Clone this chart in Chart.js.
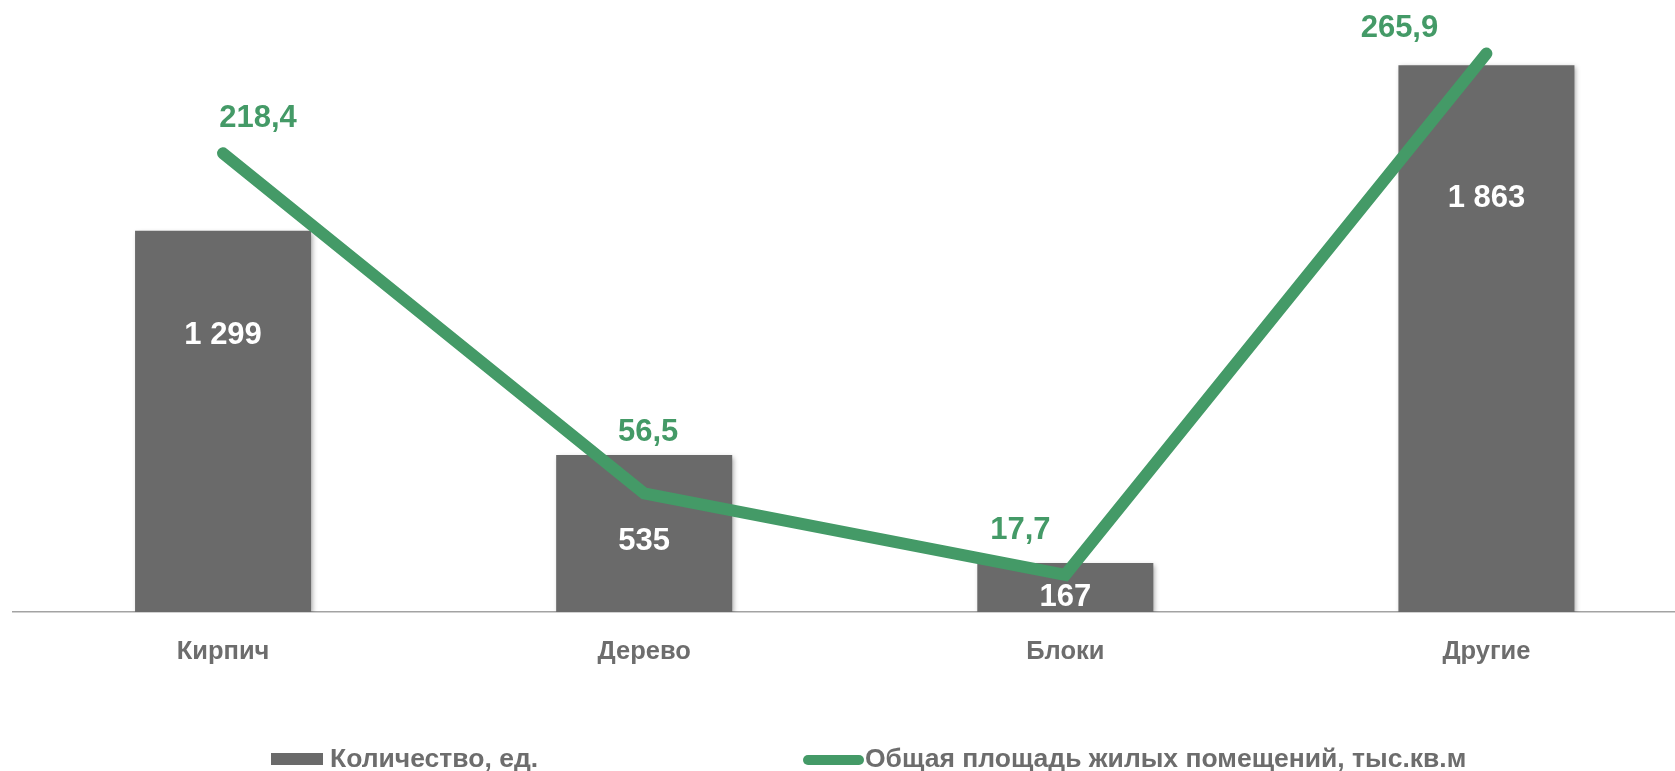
<!DOCTYPE html>
<html>
<head>
<meta charset="utf-8">
<script src="https://cdn.jsdelivr.net/npm/chart.js@4.4.1/dist/chart.umd.min.js"></script>
<style>
  html, body { margin: 0; padding: 0; background: #ffffff; overflow: hidden; }
  #wrap { position: absolute; left: 0; top: 0; width: 1710px; height: 771px; }
</style>
</head>
<body>
<div id="wrap"><canvas id="c" width="1710" height="771"></canvas></div>
<script>
// ---- data ----
const categories = ['Кирпич', 'Дерево', 'Блоки', 'Другие'];
const countValues = [1299, 535, 167, 1863];
const areaValues = [218.4, 56.5, 17.7, 265.9];
const countLabels = ['1 299', '535', '167', '1 863'];
const areaLabels = ['218,4', '56,5', '17,7', '265,9'];
const seriesNames = ['Количество, ед.', 'Общая площадь жилых помещений, тыс.кв.м'];

// ---- label placement (styling, not data) ----
const areaLabelOffsets = [[35, -35], [4, -61], [-45, -44], [-87, -25]];
const countLabelOffsets = [105, 86, 34, 133]; // from bar top

const GRAY = '#6a6a6a';
const GREEN = '#449a67';
const TEXT = '#6d6d6d';
const FONT = '"Liberation Sans", Arial, sans-serif';

const barShadow = {
  id: 'barShadow',
  beforeDatasetDraw(chart, args) {
    if (args.index === 0) {
      const ctx = chart.ctx;
      ctx.save();
      ctx.shadowColor = 'rgba(0,0,0,0.35)';
      ctx.shadowBlur = 5;
      ctx.shadowOffsetX = 2;
      ctx.shadowOffsetY = 2;
    }
  },
  afterDatasetDraw(chart, args) {
    if (args.index === 0) chart.ctx.restore();
  }
};

const valueLabels = {
  id: 'valueLabels',
  afterDatasetsDraw(chart) {
    const ctx = chart.ctx;
    ctx.save();
    ctx.textAlign = 'center';
    ctx.textBaseline = 'middle';
    ctx.font = 'bold 31px ' + FONT;
    ctx.fillStyle = '#ffffff';
    chart.getDatasetMeta(0).data.forEach((el, i) => {
      ctx.fillText(countLabels[i], el.x, el.y + countLabelOffsets[i]);
    });
    ctx.fillStyle = GREEN;
    chart.getDatasetMeta(1).data.forEach((el, i) => {
      const o = areaLabelOffsets[i];
      ctx.fillText(areaLabels[i], el.x + o[0], el.y + o[1]);
    });
    ctx.restore();
  }
};

const customLegend = {
  id: 'customLegend',
  afterDraw(chart) {
    const ctx = chart.ctx;
    ctx.save();
    ctx.font = 'bold 26.5px ' + FONT;
    ctx.textBaseline = 'middle';
    ctx.textAlign = 'left';
    const y = 760;
    ctx.fillStyle = GRAY;
    ctx.fillRect(271, 753, 52, 12);
    ctx.fillStyle = TEXT;
    ctx.fillText(chart.data.datasets[0].label, 330, y);
    ctx.strokeStyle = GREEN;
    ctx.lineWidth = 10;
    ctx.lineCap = 'round';
    ctx.beginPath();
    ctx.moveTo(808, y);
    ctx.lineTo(859, y);
    ctx.stroke();
    ctx.fillStyle = TEXT;
    ctx.fillText(chart.data.datasets[1].label, 865, y);
    ctx.restore();
  }
};

new Chart(document.getElementById('c'), {
  data: {
    labels: categories,
    datasets: [
      {
        type: 'bar',
        label: seriesNames[0],
        data: countValues,
        backgroundColor: GRAY,
        yAxisID: 'y',
        barPercentage: 0.418,
        categoryPercentage: 1.0,
        order: 2
      },
      {
        type: 'line',
        label: seriesNames[1],
        data: areaValues,
        borderColor: GREEN,
        backgroundColor: GREEN,
        borderWidth: 12,
        borderCapStyle: 'round',
        borderJoinStyle: 'miter',
        pointRadius: 0,
        tension: 0,
        yAxisID: 'y2',
        order: 1
      }
    ]
  },
  options: {
    responsive: false,
    animation: false,
    devicePixelRatio: 1,
    layout: { padding: { left: 12.5, right: 13, top: 25, bottom: 0 } },
    plugins: {
      legend: { display: false },
      tooltip: { enabled: false }
    },
    scales: {
      x: {
        grid: { display: false },
        border: { display: true, color: '#a3a3a3', width: 1.5 },
        ticks: {
          color: TEXT,
          font: { family: FONT, size: 25.5, weight: 'bold' },
          padding: 17,
          maxRotation: 0
        },
        afterFit(scale) { scale.height = 159; }
      },
      y: { display: false, min: 0, max: 2000 },
      y2: { display: false, min: 0, max: 279.5 }
    }
  },
  plugins: [barShadow, valueLabels, customLegend]
});
</script>
</body>
</html>
